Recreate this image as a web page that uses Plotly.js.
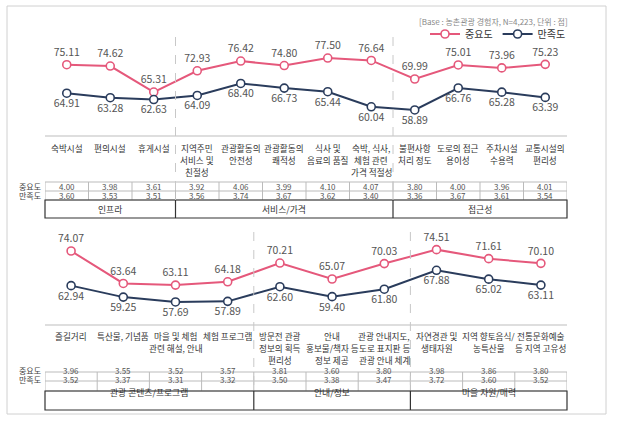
<!DOCTYPE html>
<html><head><meta charset="utf-8">
<script src="https://cdn.plot.ly/plotly-3.0.1.min.js"></script>
<style>body{margin:0;background:#fff}#c{width:620px;height:422px}</style>
</head><body><div id="c"></div>
<script>
// ---- data ----
const cats1 = ['숙박시설','편의시설','휴게시설','지역주민<br>서비스 및<br>친절성','관광활동의<br>안전성','관광활동의<br>쾌적성','식사 및<br>음료의 품질','숙박, 식사,<br>체험 관련<br>가격 적절성','불편사항<br>처리 정도','도로의 접근<br>용이성','주차시설<br>수용력','교통시설의<br>편리성'];
const imp1 = [75.11,74.62,65.31,72.93,76.42,74.80,77.50,76.64,69.99,75.01,73.96,75.23];
const sat1 = [64.91,63.28,62.63,64.09,68.40,66.73,65.44,60.04,58.89,66.76,65.28,63.39];
const impScore1 = ['4.00','3.98','3.61','3.92','4.06','3.99','4.10','4.07','3.80','4.00','3.96','4.01'];
const satScore1 = ['3.60','3.53','3.51','3.56','3.74','3.67','3.62','3.40','3.36','3.67','3.61','3.54'];
const groups1 = ['인프라','서비스/가격','접근성'];
const groupSizes1 = [3,5,4];

const cats2 = ['즐길거리','특산물, 기념품','마을 및 체험<br>관련 해설, 안내','체험 프로그램','방문전 관광<br>정보의 획득<br>편리성','안내<br>홍보물/책자 등<br>정보 제공','관광 안내지도,<br>도로 표지판 등<br>관광 안내 체계','자연경관 및<br>생태자원','지역 향토음식/<br>농특산물','전통문화예술<br>등 지역 고유성'];
const imp2 = [74.07,63.64,63.11,64.18,70.21,65.07,70.03,74.51,71.61,70.10];
const sat2 = [62.94,59.25,57.69,57.89,62.60,59.40,61.80,67.88,65.02,63.11];
const impScore2 = ['3.96','3.55','3.52','3.57','3.81','3.60','3.80','3.98','3.86','3.80'];
const satScore2 = ['3.52','3.37','3.31','3.32','3.50','3.38','3.47','3.72','3.60','3.52'];
const groups2 = ['관광 콘텐츠/프로그램','안내/정보','마을 자원/매력'];
const groupSizes2 = [4,3,3];

const seriesNames = ['중요도','만족도'];
const baseNote = '[Base : 농촌관광 경험자, N=4,223, 단위 : 점]';

// ---- style / layout helpers ----
const W = 620, H = 422;
const PINK = '#E5587B', NAVY = '#2A3C5C';
const FONT = 'Noto Sans CJK KR, Noto Sans, sans-serif';
const py = p => 1 - p / H;
const px = p => p / W;

function lineTraces(vals, color, name, xa, ya, pos, showleg) {
  return {
    x: vals.map((_, i) => i), y: vals, type: 'scatter', mode: 'lines+markers+text',
    name: name, xaxis: xa, yaxis: ya, showlegend: showleg,
    line: {color: color, width: 2},
    marker: {symbol: 'circle', size: 8, color: '#fff', line: {color: color, width: 1.6}},
    text: vals.map(v => v.toFixed(2)), textposition: pos,
    textfont: {size: 10.5, color: '#555', family: FONT},
    cliponaxis: false, hoverinfo: 'skip'
  };
}

const data = [
  lineTraces(imp1, PINK, seriesNames[0], 'x', 'y', 'top center', true),
  lineTraces(sat1, NAVY, seriesNames[1], 'x', 'y', 'bottom center', true),
  lineTraces(imp2, PINK, seriesNames[0], 'x2', 'y2', 'top center', false),
  lineTraces(sat2, NAVY, seriesNames[1], 'x2', 'y2', 'bottom center', false)
];

const shapes = [];
const annotations = [];

// outer frame
shapes.push({type:'rect', xref:'paper', yref:'paper', x0:px(7), x1:px(606), y0:py(6), y1:py(414), line:{color:'#d0d0d0', width:1}});

function panel(cats, impS, satS, groups, sizes, xr, cfg) {
  const n = cats.length;
  shapes.push({type:'line', xref:'paper', yref:'paper', x0:px(45), x1:px(567), y0:py(cfg.sep), y1:py(cfg.sep), line:{color:'#bdbdbd', width:1}});
  cats.forEach((c, i) => c.split('<br>').forEach((ln, k) => annotations.push({
    xref:xr, yref:'paper', x:i, y:py(cfg.cat0 + k*cfg.catStep), yanchor:'middle', xanchor:'center',
    text:ln, showarrow:false, font:{size:8.6, color:'#333', family:FONT}, borderpad:0})));
  [cfg.t0, cfg.t1, cfg.t2].forEach(yy => shapes.push({type:'line', xref:'paper', yref:'paper', x0:px(45), x1:px(567), y0:py(yy), y1:py(yy), line:{color:'#bbbbbb', width:1}}));
  for (let i = 0; i <= n; i++) {
    shapes.push({type:'line', xref:xr, yref:'paper', x0:i-0.5, x1:i-0.5, y0:py(cfg.t0), y1:py(cfg.t2), line:{color:'#bbbbbb', width:1}});
  }
  const tf = {size:8, color:'#555', family:FONT};
  impS.forEach((v, i) => annotations.push({xref:xr, yref:'paper', x:i, y:py((cfg.t0+cfg.t1)/2), text:v, showarrow:false, font:tf, borderpad:0}));
  satS.forEach((v, i) => annotations.push({xref:xr, yref:'paper', x:i, y:py((cfg.t1+cfg.t2)/2), text:v, showarrow:false, font:tf, borderpad:0}));
  const lf = {size:8, color:'#444', family:FONT};
  annotations.push({xref:'paper', yref:'paper', x:px(42), xanchor:'right', y:py((cfg.t0+cfg.t1)/2), text:seriesNames[0], showarrow:false, font:lf, borderpad:0});
  annotations.push({xref:'paper', yref:'paper', x:px(42), xanchor:'right', y:py((cfg.t1+cfg.t2)/2), text:seriesNames[1], showarrow:false, font:lf, borderpad:0});
  shapes.push({type:'rect', xref:'paper', yref:'paper', x0:px(45), x1:px(567), y0:py(cfg.t2), y1:py(cfg.g1), line:{color:'#333', width:1.2}});
  let start = 0;
  groups.forEach((g, k) => {
    const end = start + sizes[k] - 1;
    annotations.push({xref:xr, yref:'paper', x:(start+end)/2, y:py((cfg.t2+cfg.g1)/2), text:g, showarrow:false, font:{size:8.8, color:'#333', family:FONT}});
    if (k < groups.length - 1) {
      const b = end + 0.5;
      shapes.push({type:'line', xref:xr, yref:'paper', x0:b, x1:b, y0:py(cfg.t2), y1:py(cfg.g1), line:{color:'#333', width:1.2}});
      shapes.push({type:'line', xref:xr, yref:'paper', x0:b, x1:b, y0:py(cfg.dashTop), y1:py(cfg.t2), line:{color:'#c8c8c8', width:1, dash:'dash'}});
    }
    start = end + 1;
  });
}

panel(cats1, impScore1, satScore1, groups1, groupSizes1, 'x', {sep:136, cat0:148, catStep:12, t0:182, t1:191, t2:200, g1:218, dashTop:37});
panel(cats2, impScore2, satScore2, groups2, groupSizes2, 'x2', {sep:325, cat0:335.5, catStep:12, t0:372, t1:381, t2:391, g1:410, dashTop:232});

annotations.push({xref:'paper', yref:'paper', x:px(569), xanchor:'right', y:py(15), text:baseNote, showarrow:false, font:{size:8, color:'#888', family:FONT}, borderpad:0});

const hidden = {showgrid:false, zeroline:false, showline:false, showticklabels:false, ticks:'', fixedrange:true};
const layout = {
  width: W, height: H, margin:{l:0, r:0, t:0, b:0},
  paper_bgcolor:'#fff', plot_bgcolor:'rgba(0,0,0,0)',
  font:{family:FONT},
  xaxis: Object.assign({domain:[px(45), px(567)], range:[-0.5, cats1.length-0.5]}, hidden),
  yaxis: Object.assign({domain:[py(136), py(30)], range:[49.57, 87.54]}, hidden),
  xaxis2: Object.assign({domain:[px(45), px(567)], range:[-0.5, cats2.length-0.5], anchor:'y2'}, hidden),
  yaxis2: Object.assign({domain:[py(325), py(225)], range:[50.29, 82.43], anchor:'x2'}, hidden),
  showlegend: true,
  legend: {orientation:'h', x:px(571), xanchor:'right', y:py(34), yanchor:'middle', font:{size:10, color:'#333', family:FONT}, itemwidth:30, bgcolor:'rgba(0,0,0,0)', tracegroupgap:0},
  shapes: shapes, annotations: annotations
};
Plotly.newPlot('c', data, layout, {displayModeBar:false, staticPlot:true});
</script></body></html>
